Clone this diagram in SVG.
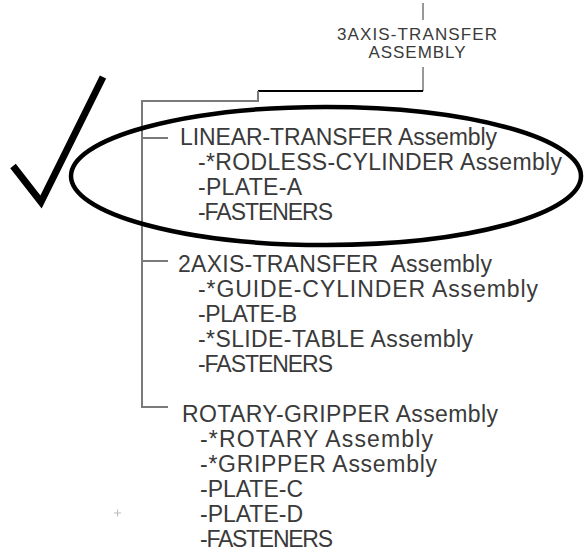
<svg xmlns="http://www.w3.org/2000/svg" width="585" height="552" viewBox="0 0 585 552">
<style>
text{font-family:"Liberation Sans",Arial,sans-serif;fill:#3a3a3a}
.t{font-size:23px}
.h{font-size:17px}
.tree{stroke:#7a7a7a;stroke-width:2;fill:none}
.ink{stroke:#000;fill:none}
</style>
<rect width="585" height="552" fill="#fff"/>
<g id="connectors">
<line x1="423" y1="3" x2="423" y2="20" stroke="#333" stroke-width="1"/>
<line x1="423" y1="67" x2="423" y2="91" stroke="#333" stroke-width="1"/>
<line x1="258" y1="91" x2="423" y2="91" stroke="#000" stroke-width="2"/>
<polyline class="tree" points="258,91 258,101 142,101 142,407 168,407"/>
<line class="tree" x1="142" y1="138" x2="168" y2="138"/>
<line class="tree" x1="142" y1="261" x2="168" y2="261"/>
</g>
<g id="root">
<text class="h" x="417" y="40" text-anchor="middle" textLength="160">3AXIS-TRANSFER</text>
<text class="h" x="417" y="58" text-anchor="middle" textLength="97">ASSEMBLY</text>
</g>
<g id="linear-transfer">
<text class="t" x="180" y="145" textLength="317">LINEAR-TRANSFER Assembly</text>
<text class="t" x="198" y="170" textLength="364">-*RODLESS-CYLINDER Assembly</text>
<text class="t" x="198" y="195" textLength="104">-PLATE-A</text>
<text class="t" x="198" y="220" textLength="135">-FASTENERS</text>
</g>
<g id="axis2-transfer">
<text class="t" x="178" y="272" textLength="314" xml:space="preserve">2AXIS-TRANSFER  Assembly</text>
<text class="t" x="198" y="297" textLength="340">-*GUIDE-CYLINDER Assembly</text>
<text class="t" x="198" y="322" textLength="99">-PLATE-B</text>
<text class="t" x="198" y="347" textLength="275">-*SLIDE-TABLE Assembly</text>
<text class="t" x="198" y="372" textLength="135">-FASTENERS</text>
</g>
<g id="rotary-gripper">
<text class="t" x="182" y="422" textLength="316">ROTARY-GRIPPER Assembly</text>
<text class="t" x="200" y="447" textLength="233">-*ROTARY Assembly</text>
<text class="t" x="200" y="472" textLength="237">-*GRIPPER Assembly</text>
<text class="t" x="200" y="497" textLength="103">-PLATE-C</text>
<text class="t" x="200" y="522" textLength="103">-PLATE-D</text>
<text class="t" x="200" y="547" textLength="133">-FASTENERS</text>
</g>
<g id="annotations">
<ellipse class="ink" cx="326" cy="176" rx="255" ry="69" stroke-width="4.5"/>
<polyline class="ink" points="13,166 41,202 103,77" stroke-width="7" stroke-linejoin="miter"/>
<path d="M114 513h7M117.5 509.5v7" stroke="#bbb" stroke-width="1" fill="none"/>
</g>
</svg>
